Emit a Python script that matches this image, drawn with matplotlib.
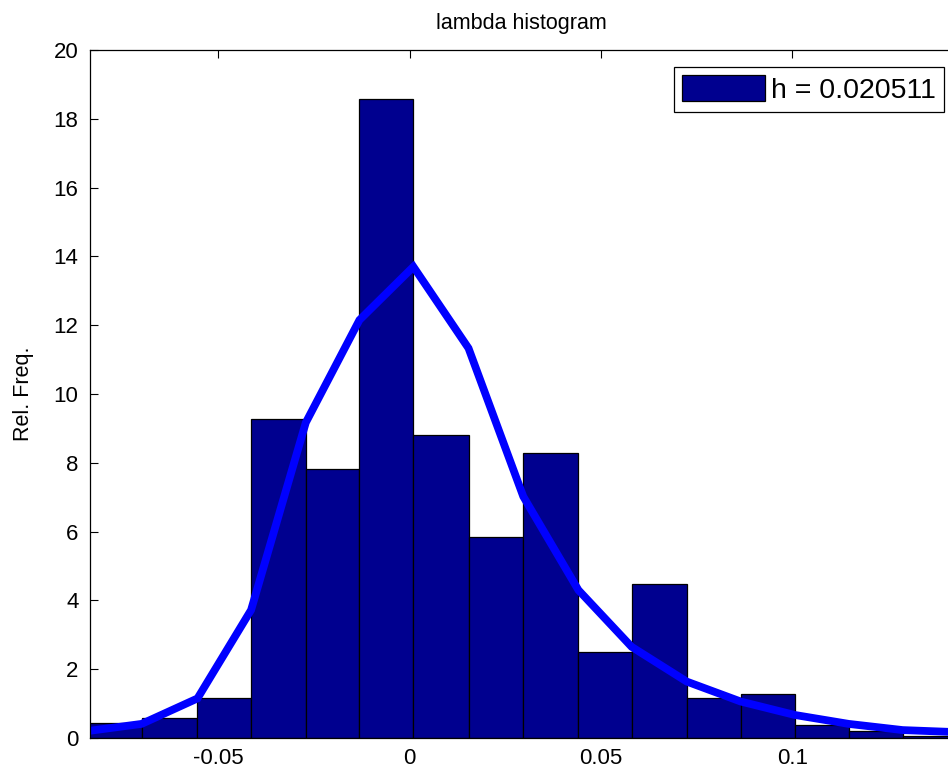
import numpy as np
import matplotlib
matplotlib.use("Agg")
import matplotlib.pyplot as plt

plt.rcParams['font.family'] = ['Liberation Sans', 'DejaVu Sans']

# Histogram bin edges (x) and relative frequencies
bin_edges = [-0.0842, -0.0700, -0.0554, -0.0414, -0.0271, -0.0131, 0.0010,
             0.0154, 0.0297, 0.0441, 0.0580, 0.0724, 0.0865, 0.1006,
             0.1147, 0.1288, 0.1430]
rel_freq = [0.45, 0.57, 1.16, 9.26, 7.81, 18.58, 8.80, 5.83, 8.28,
            2.49, 4.48, 1.15, 1.27, 0.38, 0.21, 0.07]

# Density curve evaluated at the bin edges
curve_y = [0.20, 0.41, 1.15, 3.72, 9.17, 12.15, 13.70, 11.33, 7.02,
           4.30, 2.65, 1.64, 1.06, 0.67, 0.41, 0.23, 0.17]

x_ticks = [-0.05, 0, 0.05, 0.1]
x_ticklabels = ['-0.05', '0', '0.05', '0.1']
y_ticks = list(range(0, 21, 2))
legend_label = 'h = 0.020511'
title = 'lambda histogram'
ylabel = 'Rel. Freq.'

W, H = 948, 771
fig = plt.figure(figsize=(W / 100, H / 100), dpi=100)
left_px, right_px, top_px, bot_px = 89.5, 954, 50, 738
ax = fig.add_axes([left_px / W, 1 - bot_px / H,
                   (right_px - left_px) / W, (bot_px - top_px) / H])

edges = np.array(bin_edges)
ax.bar(edges[:-1], rel_freq, width=np.diff(edges), align='edge',
       color='#00008F', edgecolor='black', linewidth=0.9,
       label=legend_label, zorder=2)
ax.plot(edges, curve_y, color='#0000FF', linewidth=5.6,
        solid_joinstyle='miter', zorder=3)

ax.set_xlim(-0.0836, 0.1422)
ax.set_ylim(0, 20)
ax.set_xticks(x_ticks)
ax.set_xticklabels(x_ticklabels)
ax.set_yticks(y_ticks)
ax.tick_params(direction='in', length=6, width=0.8, top=True, right=False,
               labelsize=16, pad=8, colors='black')
ax.tick_params(axis='x', pad=7)
for s in ax.spines.values():
    s.set_linewidth(0.9)
    s.set_zorder(4)

ax.set_title(title, fontsize=15.5, pad=15)
ax.set_ylabel(ylabel, fontsize=15.5, labelpad=14)

leg = ax.legend(loc='upper right', bbox_to_anchor=(944 / W, 1 - 66.7 / H),
                bbox_transform=fig.transFigure, borderaxespad=0,
                fontsize=20.5, handlelength=2.9, handleheight=1.0,
                handletextpad=0.2, borderpad=0.3, fancybox=False,
                framealpha=1, edgecolor='black')
leg.get_frame().set_linewidth(0.9)

fig.savefig('out.png', dpi=100)
